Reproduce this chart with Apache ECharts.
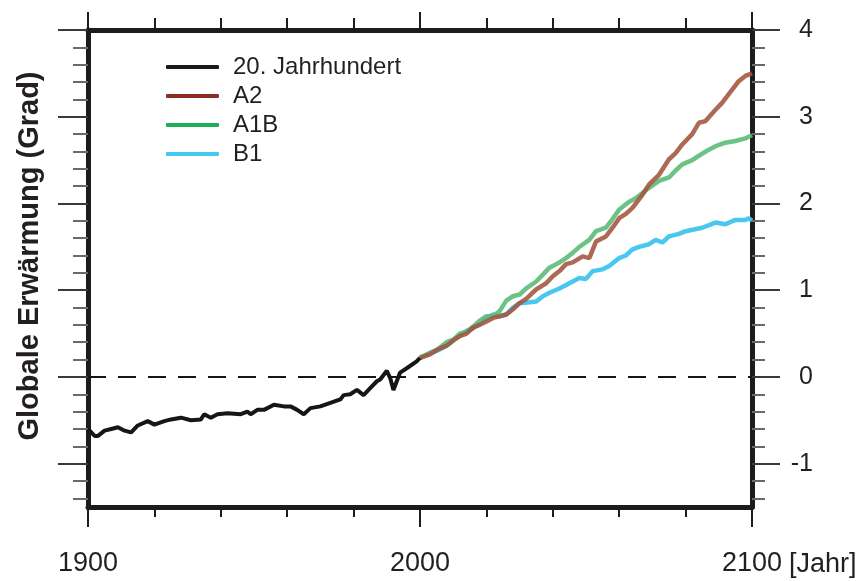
<!DOCTYPE html>
<html>
<head>
<meta charset="utf-8">
<script src="https://cdn.jsdelivr.net/npm/echarts@6/dist/echarts.min.js"></script>
<style>
  html, body { margin: 0; padding: 0; background: #fff; }
  #chart { width: 863px; height: 581px; }
</style>
</head>
<body>
<div id="chart"></div>
<script>
// 20. Jahrhundert (beobachtet)
var histYears = [1900, 1902, 1903, 1905, 1907, 1909, 1911, 1913, 1915, 1918, 1920, 1923, 1925, 1928, 1931, 1934, 1935, 1937, 1939, 1942, 1946, 1948, 1949, 1951, 1953, 1956, 1959, 1961, 1963, 1965, 1967, 1970, 1973, 1976, 1977, 1979, 1981, 1983, 1985, 1987, 1988, 1990, 1991, 1992, 1994, 1996, 1999, 2000];
var histValues = [-0.60, -0.68, -0.68, -0.62, -0.60, -0.58, -0.62, -0.64, -0.56, -0.51, -0.55, -0.51, -0.49, -0.47, -0.50, -0.49, -0.43, -0.47, -0.43, -0.42, -0.43, -0.40, -0.43, -0.38, -0.38, -0.32, -0.34, -0.34, -0.38, -0.43, -0.36, -0.34, -0.30, -0.26, -0.21, -0.20, -0.15, -0.21, -0.13, -0.05, -0.03, 0.07, -0.01, -0.15, 0.05, 0.10, 0.18, 0.22];

// Szenario A2
var a2Years = [2000, 2003, 2005, 2008, 2010, 2012, 2014, 2016, 2018, 2020, 2022, 2024, 2026, 2028, 2030, 2032, 2035, 2038, 2040, 2042, 2044, 2046, 2049, 2051, 2053, 2056, 2058, 2060, 2062, 2064, 2067, 2069, 2072, 2075, 2077, 2079, 2082, 2084, 2086, 2089, 2091, 2093, 2096, 2098, 2100];
var a2Values = [0.22, 0.26, 0.31, 0.36, 0.42, 0.47, 0.50, 0.57, 0.60, 0.64, 0.68, 0.70, 0.72, 0.78, 0.85, 0.90, 1.01, 1.08, 1.16, 1.22, 1.30, 1.32, 1.39, 1.37, 1.56, 1.62, 1.72, 1.83, 1.88, 1.95, 2.10, 2.22, 2.33, 2.51, 2.58, 2.68, 2.80, 2.93, 2.95, 3.08, 3.16, 3.26, 3.41, 3.47, 3.50];

// Szenario A1B
var a1bYears = [2000, 2003, 2005, 2008, 2010, 2012, 2014, 2016, 2018, 2020, 2022, 2024, 2026, 2028, 2030, 2032, 2035, 2037, 2039, 2042, 2044, 2046, 2048, 2051, 2053, 2056, 2058, 2060, 2063, 2065, 2069, 2072, 2075, 2077, 2079, 2082, 2084, 2087, 2089, 2092, 2095, 2098, 2100];
var a1bValues = [0.22, 0.28, 0.31, 0.40, 0.43, 0.50, 0.52, 0.58, 0.65, 0.70, 0.70, 0.76, 0.88, 0.93, 0.95, 1.02, 1.10, 1.18, 1.26, 1.32, 1.37, 1.43, 1.50, 1.58, 1.68, 1.72, 1.82, 1.93, 2.02, 2.06, 2.18, 2.26, 2.30, 2.38, 2.45, 2.50, 2.55, 2.62, 2.66, 2.70, 2.72, 2.75, 2.79];

// Szenario B1
var b1Years = [2000, 2003, 2005, 2008, 2010, 2012, 2014, 2016, 2018, 2020, 2022, 2024, 2026, 2028, 2030, 2033, 2035, 2037, 2039, 2042, 2044, 2046, 2048, 2050, 2052, 2055, 2057, 2060, 2062, 2064, 2066, 2069, 2071, 2073, 2075, 2078, 2080, 2085, 2089, 2092, 2095, 2098, 2099, 2100];
var b1Values = [0.22, 0.27, 0.30, 0.36, 0.42, 0.48, 0.53, 0.56, 0.62, 0.68, 0.72, 0.70, 0.72, 0.80, 0.85, 0.86, 0.87, 0.93, 0.97, 1.02, 1.06, 1.10, 1.14, 1.13, 1.22, 1.24, 1.28, 1.37, 1.40, 1.47, 1.50, 1.53, 1.58, 1.55, 1.62, 1.65, 1.68, 1.72, 1.78, 1.76, 1.81, 1.81, 1.83, 1.80];

// Achsenbeschriftung
var seriesNames = ['20. Jahrhundert', 'A2', 'A1B', 'B1'];
var yMajorTicks = [-1, 0, 1, 2, 3, 4];
var yMinorTicks = [-1.4, -1.2, -0.8, -0.6, -0.4, -0.2, 0.2, 0.4, 0.6, 0.8, 1.2, 1.4, 1.6, 1.8, 2.2, 2.4, 2.6, 2.8, 3.2, 3.4, 3.6, 3.8];
var xLabelYears = [1900, 2000, 2100];

var FONT = '"Liberation Sans", Arial, Helvetica, sans-serif';
var TXT = '#231f20';
var FRAME = '#1c1c1c';

function pairs(xs, ys) {
    return xs.map(function (x, i) { return [x, ys[i]]; });
}

var chart = echarts.init(document.getElementById('chart'), null, { renderer: 'canvas' });

var grid = { left: 88, right: 111, top: 30, bottom: 74 };

// x-Achsen: unten/oben, je Nebenstriche (20 J.) und Hauptstriche (100 J.)
function xAx(pos, interval, tickLen, showLine, showLabel) {
    return {
        type: 'value', position: pos, min: 1900, max: 2100, interval: interval,
        axisLine: { show: showLine, onZero: false, lineStyle: { color: FRAME, width: 5 } },
        axisTick: { show: true, length: tickLen, lineStyle: { color: FRAME, width: 2 } },
        splitLine: { show: false },
        axisLabel: {
            show: showLabel, margin: 43, fontSize: 27, fontFamily: FONT, color: TXT,
            formatter: function (v) { return xLabelYears.indexOf(v) >= 0 ? String(v) : ''; }
        }
    };
}

// y-Achsen: rechts (mit Zahlen) und links, Haupt- und Nebenstriche
function yAx(pos, ticks, tickLen, color, showLine, showLabel) {
    return {
        type: 'value', position: pos, min: -1.5, max: 4,
        axisLine: { show: showLine, onZero: false, lineStyle: { color: FRAME, width: 5 } },
        axisTick: { show: true, customValues: ticks, length: tickLen, lineStyle: { color: color, width: 2 } },
        splitLine: { show: false },
        axisLabel: {
            show: showLabel, customValues: ticks, align: 'right', margin: 61,
            fontSize: 25, fontFamily: FONT, color: TXT
        }
    };
}

var option = {
    animation: false,
    backgroundColor: '#fff',
    grid: grid,
    xAxis: [
        xAx('bottom', 20, 10, true, true),
        xAx('bottom', 100, 20, false, false),
        xAx('top', 20, 12, true, false),
        xAx('top', 100, 18, false, false)
    ],
    yAxis: [
        yAx('right', yMajorTicks, 28, '#3a3a3a', true, true),
        yAx('right', yMinorTicks, 13, '#6a6a6a', false, false),
        yAx('left', yMajorTicks, 30, '#3a3a3a', true, false),
        yAx('left', yMinorTicks, 15, '#6a6a6a', false, false)
    ],
    legend: {
        orient: 'vertical', left: 161, top: 50,
        itemWidth: 53, itemHeight: 4, itemGap: 5,
        icon: 'roundRect',
        formatter: '{t|{name}}',
        textStyle: {
            rich: { t: { fontSize: 24, lineHeight: 24, fontFamily: FONT, color: TXT, padding: [0, 0, 0, 9] } }
        },
        data: [
            { name: seriesNames[0], itemStyle: { color: '#1a1a1a' } },
            { name: seriesNames[1], itemStyle: { color: '#8e2c25' } },
            { name: seriesNames[2], itemStyle: { color: '#1bad57' } },
            { name: seriesNames[3], itemStyle: { color: '#43c8f0' } }
        ]
    },
    graphic: [
        {
            type: 'text', x: 30, y: 256, rotation: Math.PI / 2,
            style: {
                text: 'Globale Erwärmung (Grad)', fill: TXT,
                font: 'bold 29px ' + FONT, textAlign: 'center', textVerticalAlign: 'middle'
            }
        },
        {
            type: 'text', x: 789, y: 565,
            style: {
                text: '[Jahr]', fill: TXT,
                font: '27px ' + FONT, textAlign: 'left', textVerticalAlign: 'middle'
            }
        }
    ],
    series: [
        {
            name: seriesNames[3], type: 'line', data: pairs(b1Years, b1Values),
            showSymbol: false, z: 3,
            lineStyle: { color: '#3ec5ee', width: 4.5, opacity: 0.95 }, itemStyle: { color: '#43c8f0' }
        },
        {
            name: seriesNames[2], type: 'line', data: pairs(a1bYears, a1bValues),
            showSymbol: false, z: 4,
            lineStyle: { color: '#5cbd79', width: 4.5, opacity: 0.9 }, itemStyle: { color: '#1bad57' }
        },
        {
            name: seriesNames[1], type: 'line', data: pairs(a2Years, a2Values),
            showSymbol: false, z: 5,
            lineStyle: { color: '#a3543e', width: 4.5, opacity: 0.88 }, itemStyle: { color: '#8e2c25' }
        },
        {
            name: seriesNames[0], type: 'line', data: pairs(histYears, histValues),
            showSymbol: false, z: 6,
            lineStyle: { color: '#161616', width: 4 }, itemStyle: { color: '#1a1a1a' },
            markLine: {
                silent: true, symbol: 'none', label: { show: false },
                lineStyle: { color: '#161616', width: 2, type: [18, 12] },
                data: [{ yAxis: 0 }]
            }
        }
    ]
};

chart.setOption(option);
</script>
</body>
</html>
